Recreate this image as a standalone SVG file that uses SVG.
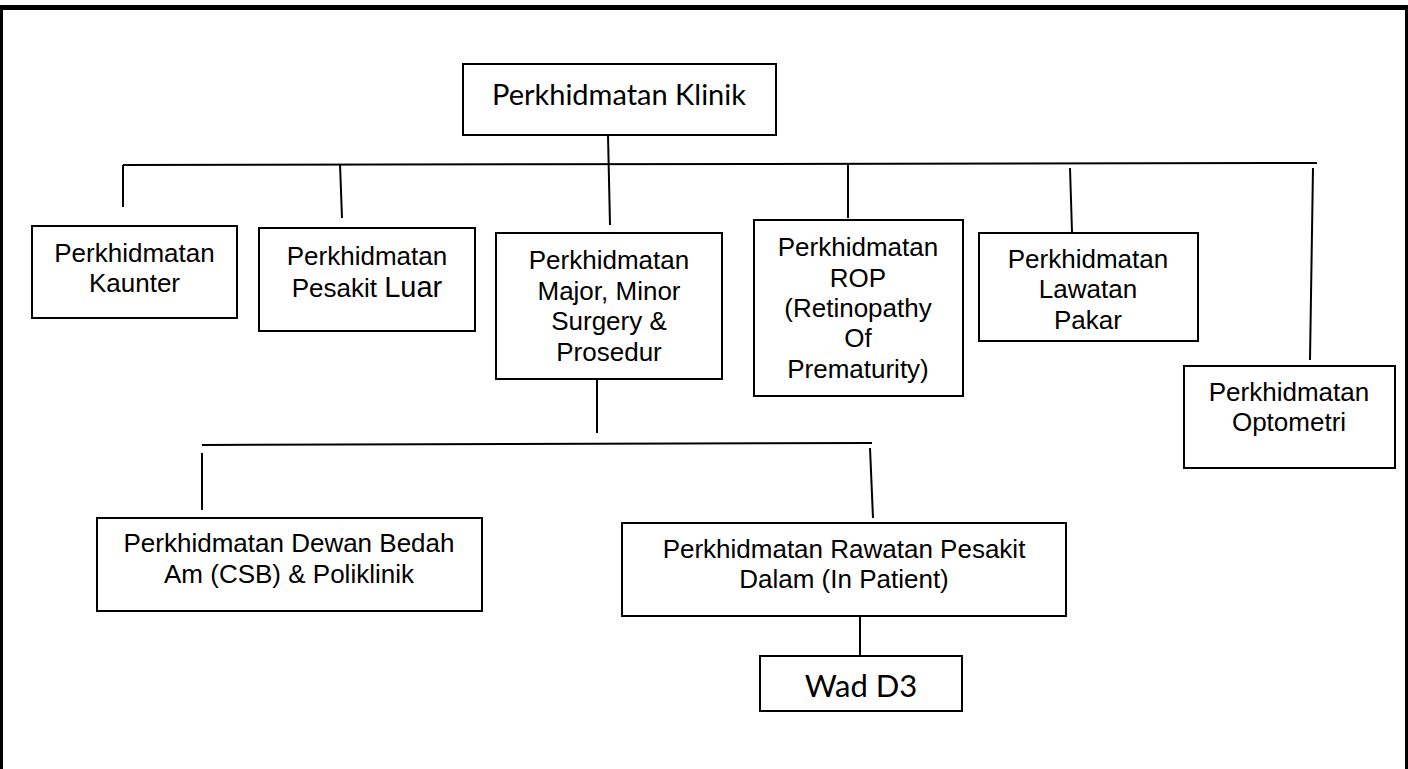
<svg xmlns="http://www.w3.org/2000/svg" width="1408" height="769" viewBox="0 0 1408 769">
<style>
.box{fill:#fff;stroke:#000;stroke-width:2}
.ln{stroke:#000;stroke-width:2;fill:none}
.t{font-family:"Liberation Sans",Arial,sans-serif;font-size:26px;fill:#000;text-anchor:middle}
.c{font-family:Lato,"Liberation Sans",sans-serif;fill:#000;text-anchor:middle}
</style>
<rect width="1408" height="769" fill="#fff"/>
<g id="frame">
<rect x="0" y="5" width="1408" height="5" fill="#000"/>
<rect x="0" y="5" width="3" height="764" fill="#000"/>
<rect x="1405" y="5" width="3" height="764" fill="#000"/>
</g>
<g id="connectors">
<line class="ln" x1="608" y1="135" x2="610" y2="225"/>
<line class="ln" x1="123" y1="165" x2="1317" y2="163"/>
<line class="ln" x1="123" y1="165" x2="123" y2="207"/>
<line class="ln" x1="340" y1="164" x2="342" y2="218"/>
<line class="ln" x1="848" y1="164" x2="848" y2="218"/>
<line class="ln" x1="1070" y1="168" x2="1072" y2="232"/>
<line class="ln" x1="1313" y1="168" x2="1310" y2="360"/>
<line class="ln" x1="597" y1="379" x2="597" y2="433"/>
<line class="ln" x1="202" y1="445" x2="872" y2="443"/>
<line class="ln" x1="202" y1="453" x2="202" y2="510"/>
<line class="ln" x1="870" y1="448" x2="873" y2="518"/>
<line class="ln" x1="860" y1="616" x2="860" y2="655"/>
</g>
<g id="klinik">
<rect class="box" x="463" y="64" width="313" height="71"/>
<text class="c" x="619" y="105" font-size="29">Perkhidmatan Klinik</text>
</g>
<g id="kaunter">
<rect class="box" x="32" y="226" width="205" height="92"/>
<text class="t" x="134.5" y="262">Perkhidmatan</text>
<text class="t" x="134.5" y="292">Kaunter</text>
</g>
<g id="pesakit-luar">
<rect class="box" x="259" y="228" width="216" height="103"/>
<text class="t" x="367" y="265">Perkhidmatan</text>
<text class="t" x="367" y="297">Pesakit <tspan font-size="29">Luar</tspan></text>
</g>
<g id="major">
<rect class="box" x="496" y="233" width="226" height="146"/>
<text class="t" x="609" y="269">Perkhidmatan</text>
<text class="t" x="609" y="299.5">Major, Minor</text>
<text class="t" x="609" y="330">Surgery &amp;</text>
<text class="t" x="609" y="361">Prosedur</text>
</g>
<g id="rop">
<rect class="box" x="754" y="220" width="209" height="176"/>
<text class="t" x="858" y="256">Perkhidmatan</text>
<text class="t" x="858" y="287">ROP</text>
<text class="t" x="858" y="317">(Retinopathy</text>
<text class="t" x="858" y="347">Of</text>
<text class="t" x="858" y="378">Prematurity)</text>
</g>
<g id="lawatan">
<rect class="box" x="979" y="233" width="219" height="108"/>
<text class="t" x="1088" y="268">Perkhidmatan</text>
<text class="t" x="1088" y="298">Lawatan</text>
<text class="t" x="1088" y="329">Pakar</text>
</g>
<g id="optometri">
<rect class="box" x="1184" y="366" width="211" height="102"/>
<text class="t" x="1289" y="401">Perkhidmatan</text>
<text class="t" x="1289" y="431">Optometri</text>
</g>
<g id="dewan-bedah">
<rect class="box" x="97" y="518" width="385" height="93"/>
<text class="t" x="289" y="552">Perkhidmatan Dewan Bedah</text>
<text class="t" x="289" y="583">Am (CSB) &amp; Poliklinik</text>
</g>
<g id="rawatan">
<rect class="box" x="622" y="523" width="444" height="93"/>
<text class="t" x="844" y="558">Perkhidmatan Rawatan Pesakit</text>
<text class="t" x="844" y="588">Dalam (In Patient)</text>
</g>
<g id="wad-d3">
<rect class="box" x="760" y="656" width="202" height="55"/>
<text class="c" x="861" y="697" font-size="31">Wad D3</text>
</g>
</svg>
